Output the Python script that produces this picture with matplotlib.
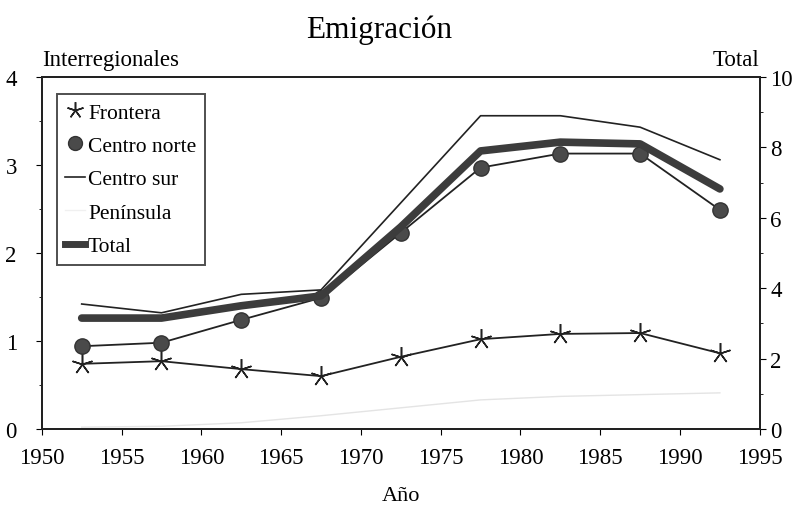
import matplotlib.pyplot as plt
from matplotlib.lines import Line2D

plt.rcParams['font.family'] = ['Liberation Serif', 'DejaVu Serif']

# Datos
anios = [1952.5, 1957.5, 1962.5, 1967.5, 1972.5, 1977.5, 1982.5, 1987.5, 1992.5]
frontera = [0.74, 0.77, 0.68, 0.60, 0.82, 1.02, 1.08, 1.09, 0.86]
centro_norte = [0.94, 0.98, 1.24, 1.49, 2.23, 2.97, 3.13, 3.13, 2.49]
centro_sur = [1.42, 1.32, 1.53, 1.58, 2.57, 3.56, 3.56, 3.43, 3.06]
peninsula = [0.02, 0.03, 0.07, 0.15, 0.24, 0.33, 0.37, 0.39, 0.41]
total = [3.15, 3.15, 3.50, 3.78, 5.74, 7.90, 8.15, 8.10, 6.82]

xticks = [1950, 1955, 1960, 1965, 1970, 1975, 1980, 1985, 1990, 1995]

fig = plt.figure(figsize=(8.04, 5.10), dpi=100)
ax = fig.add_axes([0.052, 0.157, 0.893, 0.690])
ax2 = ax.twinx()

ax.plot(anios, frontera, color='#222222', lw=1.3, marker=(5, 2, 0),
        markersize=15, mew=1.1)
ax.plot(anios, centro_norte, color='#222222', lw=1.3, marker='o',
        markersize=11, mfc='#4a4a4a', mec='#333333')
ax.plot(anios, centro_sur, color='#222222', lw=1.2)
ax.plot(anios, peninsula, color='#e4e4e4', lw=1.0)
ax2.plot(anios, total, color='#3c3c3c', lw=5.5, solid_capstyle='round')

# leyenda con marcadores solos
h1 = Line2D([], [], ls='none', marker=(5, 2, 0), markersize=12, mew=1.1,
            color='#222222', label='Frontera')
h2 = Line2D([], [], ls='none', marker='o', markersize=10, mfc='#4a4a4a',
            mec='#333333', label='Centro norte')
h3 = Line2D([], [], color='#222222', lw=1.2, label='Centro sur')
h4 = Line2D([], [], color='#f0f0f0', lw=1.0, label='Península')
h5 = Line2D([], [], color='#3c3c3c', lw=5, label='Total')

ax.set_xlim(1950, 1995)
ax.set_ylim(0, 4)
ax2.set_ylim(0, 10)
ax.set_xticks(xticks)
ax.set_yticks([0, 1, 2, 3, 4])
ax.set_yticks([0.5, 1.5, 2.5, 3.5], minor=True)
ax2.set_yticks([0, 2, 4, 6, 8, 10])
ax2.set_yticks([1, 3, 5, 7, 9], minor=True)

ax.tick_params(axis='both', labelsize=16.5, direction='out', length=4, width=0.8)
ax.tick_params(axis='x', pad=9)
ax.tick_params(axis='y', pad=14)
ax.tick_params(axis='y', which='minor', length=2)
ax2.tick_params(axis='y', labelsize=16.5, direction='out', length=4, width=0.8)
ax2.tick_params(axis='y', which='minor', length=2)

for a in (ax, ax2):
    for s in a.spines.values():
        s.set_linewidth(1.4)
        s.set_color('#222222')

ax.set_xlabel('Año', fontsize=16, labelpad=13)
ax.text(0.0, 1.02, 'Interregionales', transform=ax.transAxes, fontsize=16.5,
        ha='left', va='bottom')
ax.text(1.0, 1.02, 'Total', transform=ax.transAxes, fontsize=16.5,
        ha='right', va='bottom')
fig.text(0.472, 0.94, 'Emigración', fontsize=22.5, ha='center', va='center')

leg = ax2.legend(handles=[h1, h2, h3, h4, h5], loc='upper left',
                 bbox_to_anchor=(0.021, 0.952), borderaxespad=0,
                 fontsize=15.5, frameon=True, fancybox=False,
                 edgecolor='#222222', handlelength=0.9, handletextpad=0.15,
                 borderpad=0.4, labelspacing=0.62)
leg.get_frame().set_linewidth(1.4)

fig.savefig('out.png', dpi=100)
